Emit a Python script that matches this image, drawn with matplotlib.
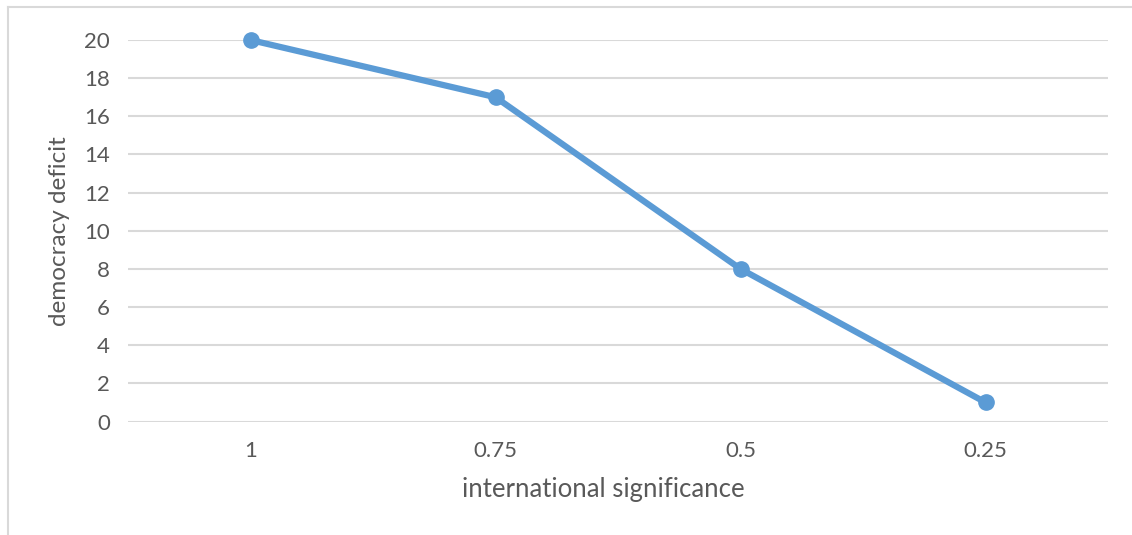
import matplotlib.pyplot as plt

# data
categories = ["1", "0.75", "0.5", "0.25"]
deficit = [20, 17, 8, 1]

plt.rcParams['font.family'] = ['Lato', 'DejaVu Sans']

fig = plt.figure(figsize=(11.32, 5.35), dpi=100)
ax = fig.add_axes([128 / 1132, 1 - 421.5 / 535, 980 / 1132, 381.5 / 535])

x = range(len(categories))
ax.plot(x, deficit, color="#5B9BD5", linewidth=4.5, marker="o", markersize=11,
        solid_capstyle="round", zorder=3, clip_on=False)

ax.set_xlim(-0.5, len(categories) - 0.5)
ax.set_ylim(0, 20)
ax.set_yticks(range(0, 21, 2))
ax.set_xticks(list(x))
ax.set_xticklabels(categories)

ax.grid(axis="y", color="#D9D9D9", linewidth=1.5)
ax.set_axisbelow(True)
for s in ax.spines.values():
    s.set_visible(False)
ax.tick_params(length=0, labelsize=16, colors="#595959")
ax.tick_params(axis="x", pad=14)
ax.tick_params(axis="y", pad=13)

ax.set_xlabel("international significance", fontsize=18.5, color="#595959")
ax.xaxis.set_label_coords((603 - 128) / 980, -(490 - 421.5) / 381.5)
ax.xaxis.label.set_va("center")
ax.set_ylabel("democracy deficit", fontsize=17.5, color="#595959", labelpad=10)

# outer chart border (partially visible in the reference)
fig.add_artist(plt.Line2D([8 / 1132, 1], [1 - 7 / 535] * 2, color="#D9D9D9", linewidth=1.5, transform=fig.transFigure))
fig.add_artist(plt.Line2D([8 / 1132] * 2, [0, 1 - 7 / 535], color="#D9D9D9", linewidth=1.5, transform=fig.transFigure))

fig.savefig("out.png", dpi=100)
